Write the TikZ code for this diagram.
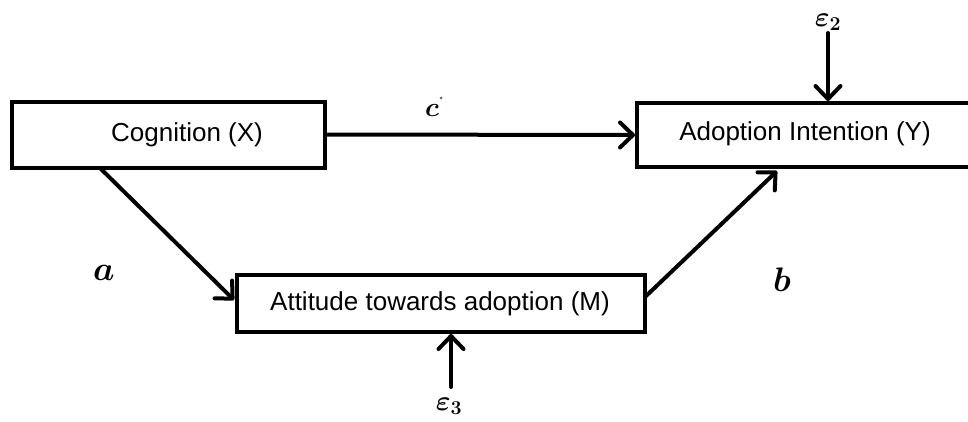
\RequirePackage{fix-cm}
\documentclass[tikz,border=0pt]{standalone}
\usepackage{fontspec}
\setmainfont{Liberation Sans}
\usepackage{bm}
\usetikzlibrary{arrows.meta}

\begin{document}
\begin{tikzpicture}[x=1pt,y=-1pt,
  box/.style={draw, line width=4pt, rectangle, inner sep=0pt},
  boxtext/.style={inner sep=0pt, font=\fontsize{26}{30}\selectfont},
  coef/.style={inner sep=0pt, font=\fontsize{34}{38}\selectfont},
  err/.style={inner sep=0pt, font=\fontsize{28}{30}\selectfont},
  link/.style={line width=4pt, line cap=round,
    -{Straight Barb[length=13pt,width=25pt,line cap=round,line join=round]}}
]
% frame of the page; the right box runs past it and is cut off
\clip (0,0) rectangle (968,421);

% the three variables
\node[box, minimum width=313pt, minimum height=66pt] (X) at (168.5,134.5) {};
\node[box, minimum width=365pt, minimum height=64pt] (Y) at (819.5,135) {};
\node[box, minimum width=408pt, minimum height=57pt] (M) at (441,303.5) {};

\node[boxtext] (tX) at (187,135) {Cognition (X)};
\node[boxtext] (tY) at (805,134) {Adoption Intention (Y)};
\node[boxtext] (tM) at (440,304) {Attitude towards adoption (M)};

% path coefficients
\node[coef] (la) at (104,273) {$\bm{a}$};
\node[coef] (lb) at (782,280) {$\bm{b}$};
\node[coef, font=\fontsize{27}{30}\selectfont] (lc) at (432,110) {$\bm{c}$};
\fill[orange!70!black] (441,98) circle (1.5pt);

% error terms
\node[err] (e2) at (828,22) {$\bm{\varepsilon}_{\bm{2}}$};
\node[err] (e3) at (449,406) {$\bm{\varepsilon}_{\bm{3}}$};

% connector ends
\coordinate (aS) at (100,168);
\coordinate (aE) at (234,300);
\coordinate (bS) at (645,297);
\coordinate (bE) at (777,171);
\coordinate (e2S) at (828,33);
\coordinate (e2E) at (828,101);
\coordinate (e3S) at (451,387);
\coordinate (e3E) at (451,334);

% paths
\draw[link] (X.east) -- (Y.west);
\draw[link] (aS) -- (aE);
\draw[link] (bS) -- (bE);
\draw[link] (e2S) -- (e2E);
\draw[link] (e3S) -- (e3E);
\end{tikzpicture}
\end{document}
